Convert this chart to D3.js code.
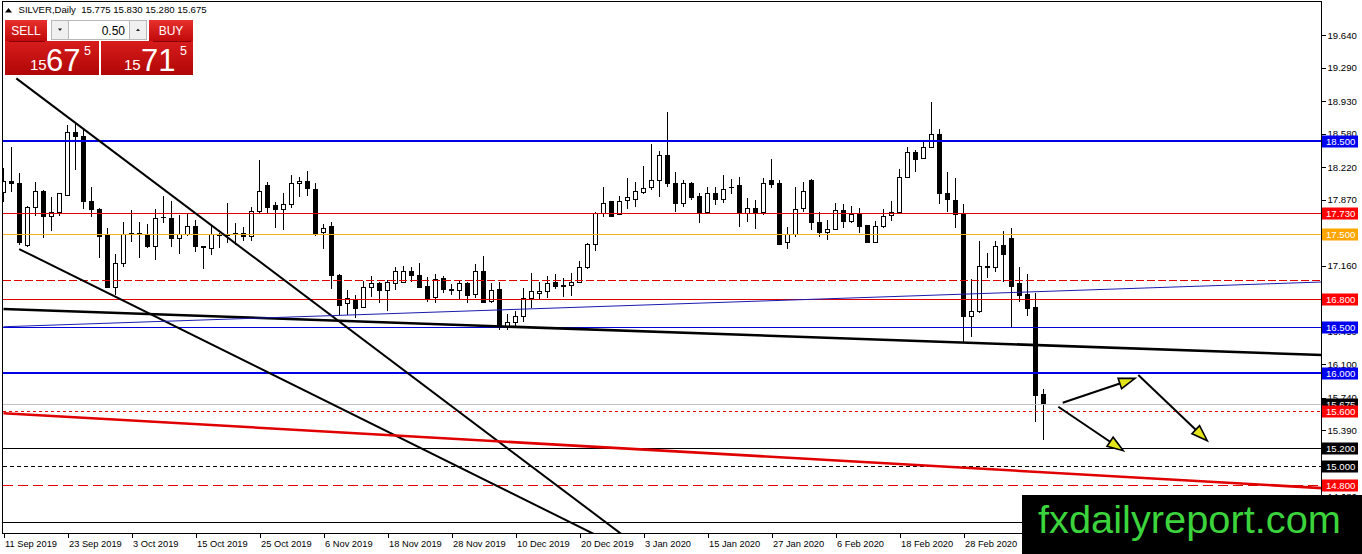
<!DOCTYPE html>
<html><head><meta charset="utf-8">
<script src="https://cdn.jsdelivr.net/npm/d3@7"></script>
<style>
body{margin:0;background:#fff;}
svg{display:block;font-family:"Liberation Sans",Arial,sans-serif;}
</style>
</head><body>
<svg id="c" width="1362" height="554"></svg>
<script>
// ---------- DATA ----------
const dateLabels = ["11 Sep 2019","23 Sep 2019","3 Oct 2019","15 Oct 2019","25 Oct 2019","6 Nov 2019","18 Nov 2019","28 Nov 2019","10 Dec 2019","20 Dec 2019","3 Jan 2020","15 Jan 2020","27 Jan 2020","6 Feb 2020","18 Feb 2020","28 Feb 2020","11 Mar 2020"];
const dateLabelBars = [0,8,16,24,32,40,48,56,64,72,80,88,96,104,112,120,128];

const open = [17.951,18.059,18.048,17.381,17.790,17.962,17.693,17.736,17.919,18.596,
18.553,17.844,17.768,17.499,16.929,17.187,17.499,17.505,17.499,17.370,
17.680,17.671,17.446,17.489,17.585,17.360,17.349,17.489,17.480,17.490,
17.500,17.478,17.747,18.016,17.801,17.768,17.822,18.048,18.059,17.983,
17.521,17.575,17.058,16.747,16.800,16.714,16.919,16.972,16.897,16.972,
16.983,17.091,17.048,16.940,16.822,17.026,16.905,16.897,16.962,16.854,
17.101,16.779,16.908,16.499,16.553,16.607,16.811,16.865,16.886,16.983,
16.940,16.951,16.983,17.144,17.392,17.725,17.844,17.714,17.865,17.876,
17.951,18.005,18.080,18.349,18.048,17.833,18.048,17.908,17.736,17.940,
17.876,18.000,18.016,17.725,17.779,17.736,18.080,18.048,17.413,17.489,
17.779,18.080,17.628,17.521,17.553,17.757,17.639,17.725,17.596,17.413,
17.585,17.704,17.736,18.112,18.371,18.317,18.435,18.575,17.940,17.865,
17.714,16.617,16.671,17.144,17.144,17.381,17.456,16.962,16.854,16.704,15.775];
const high = [18.209,18.435,18.155,17.800,18.059,17.970,17.897,17.940,18.672,18.693,
18.639,18.005,17.780,17.564,17.284,17.628,17.757,17.628,17.607,17.768,
17.908,17.854,17.704,17.714,17.650,17.370,17.585,17.510,17.833,17.618,
17.575,17.790,18.295,18.059,17.844,17.940,18.134,18.112,18.177,18.048,
17.607,17.628,17.070,16.897,16.843,16.994,17.048,16.983,17.005,17.144,
17.155,17.144,17.187,17.037,17.069,17.048,16.962,17.005,16.983,17.177,
17.263,16.972,16.983,16.639,16.671,16.919,17.080,16.983,17.048,17.069,
17.026,17.080,17.209,17.403,17.736,18.005,17.850,17.908,18.102,18.059,
18.231,18.467,18.392,18.812,18.166,18.080,18.059,17.940,18.005,18.005,
18.134,18.091,18.112,17.887,17.865,18.102,18.306,18.080,17.575,18.005,
18.059,18.090,17.736,17.650,17.833,17.822,17.801,17.779,17.600,17.639,
17.768,17.854,18.198,18.435,18.403,18.500,18.919,18.629,18.166,18.102,
17.822,17.015,17.424,17.295,17.424,17.532,17.564,17.144,17.069,16.865,15.830];
const low = [17.844,17.951,17.381,17.360,17.693,17.456,17.532,17.693,17.910,18.188,
17.768,17.682,17.241,16.920,16.843,17.144,17.413,17.241,17.349,17.220,
17.618,17.360,17.284,17.480,17.306,17.123,17.274,17.349,17.403,17.381,
17.424,17.424,17.725,17.725,17.564,17.542,17.779,17.897,17.908,17.478,
17.338,16.908,16.628,16.628,16.596,16.710,16.822,16.757,16.671,16.897,
16.972,16.983,16.919,16.768,16.757,16.865,16.843,16.790,16.757,16.811,
16.757,16.757,16.467,16.467,16.499,16.553,16.704,16.790,16.811,16.908,
16.822,16.833,16.972,17.123,17.317,17.682,17.682,17.710,17.768,17.790,
17.930,17.973,17.897,18.005,17.736,17.790,17.865,17.618,17.714,17.811,
17.833,17.930,17.575,17.628,17.553,17.704,17.994,17.380,17.338,17.467,
17.736,17.542,17.467,17.435,17.542,17.564,17.618,17.510,17.410,17.408,
17.564,17.639,17.725,18.102,18.166,18.306,18.424,17.822,17.736,17.564,
16.327,16.392,16.650,17.026,17.091,16.983,16.499,16.768,16.617,15.477,15.280];
const close = [18.059,18.048,17.403,17.790,17.962,17.693,17.736,17.930,18.596,18.543,
17.844,17.768,17.478,16.929,17.187,17.499,17.505,17.495,17.370,17.671,
17.672,17.446,17.489,17.585,17.360,17.352,17.489,17.480,17.490,17.500,
17.478,17.747,17.962,17.790,17.768,17.822,18.048,18.059,17.994,17.499,
17.564,17.048,16.736,16.811,16.693,16.919,16.972,16.897,16.983,17.091,
17.091,17.048,16.929,16.811,17.015,16.908,16.897,16.972,16.833,17.101,
16.768,16.897,16.499,16.553,16.617,16.811,16.876,16.886,16.972,16.940,
16.945,16.983,17.144,17.392,17.725,17.833,17.693,17.854,17.897,17.962,
17.994,18.080,18.349,18.048,17.833,18.048,17.897,17.736,17.940,17.876,
17.973,18.005,17.725,17.779,17.725,18.048,18.037,17.392,17.489,17.768,
17.962,17.618,17.521,17.553,17.757,17.639,17.714,17.585,17.413,17.585,
17.693,17.736,18.112,18.381,18.306,18.435,18.575,17.940,17.876,17.714,
16.607,16.671,17.155,17.150,17.360,17.284,16.940,16.843,16.693,15.760,15.675];

// price-axis ticks; ticks whose label is fully covered by a level label in the reference get no text
const priceTicks = [19.640,19.290,18.930,18.580,18.220,17.870,17.510,17.160,16.800,16.450,16.100,15.740,15.390,15.030,14.680];
const hiddenTickTexts = [17.510,16.800,15.030];

const levelValues = [18.500,17.730,17.500,17.000,16.800,16.500,16.000,15.675,15.600,15.200,15.000,14.800,14.400];
const levelTexts  = ["18.500","17.730","17.500","","16.800","16.500","16.000","15.675","15.600","15.200","15.000","14.800",""];

// trend lines: [bar, price] start and end
const trendStart = [[1.6,19.174],[1.96,17.338],[0,16.693],[0,16.502],[0,15.572]];
const trendEnd   = [[78,14.223],[75,14.222],[165,16.197],[165,16.984],[165,14.766]];

// arrows: [bar, price] start and end
const arrowStart = [[132.4,15.685],[141.85,15.983],[131.85,15.642]];
const arrowEnd   = [[141.44,15.947],[150.48,15.276],[139.98,15.169]];

const header = {symbol:"SILVER,Daily", ohlc:["15.775","15.830","15.280","15.675"]};
const lotSize = "0.50";
const bidParts = ["15","67","5"];
const askParts = ["15","71","5"];
const watermark = "fxdailyreport.com";

// ---------- STYLES (kept separate from data) ----------
const levelStyle = [
 {c:"#0000e6",w:2,d:null,bg:"#0000f0"},
 {c:"#e00000",w:1,d:null,bg:"#ff0000"},
 {c:"#f0b020",w:1,d:null,bg:"#ffa500"},
 {c:"#e00000",w:1,d:"8,3",bg:null},
 {c:"#e00000",w:1,d:null,bg:"#ff0000"},
 {c:"#0000d8",w:1,d:null,bg:"#0000f0"},
 {c:"#0000e6",w:2,d:null,bg:"#0000f0"},
 {c:"#c0c0c0",w:1,d:null,bg:"#000000"},
 {c:"#e80000",w:1,d:"3,3",bg:"#ff0000"},
 {c:"#000000",w:1,d:null,bg:"#000000"},
 {c:"#000000",w:1,d:"4,3",bg:"#000000"},
 {c:"#e80000",w:1,d:"10,5",bg:"#ff0000"},
 {c:"#000000",w:1,d:null,bg:null}
];
const trendStyle = [
 {c:"#000",w:2},{c:"#000",w:2},{c:"#000",w:2.6},{c:"#1a1ab0",w:1},{c:"#e00000",w:2.6}
];

// ---------- CHART ----------
const W=1362,H=554, L=2.5, R=1321.5, T=1.5, B=533.5;
const svg = d3.select("#c");
const x = d3.scaleLinear().domain([0,130]).range([3.5,1043.5]);
const y = d3.scaleLinear().domain([19.64,14.8]).range([35,485]);

svg.append("rect").attr("width",W).attr("height",H).attr("fill","#fff");
const defs = svg.append("defs");
defs.append("clipPath").attr("id","plot").append("rect")
  .attr("x",L).attr("y",T).attr("width",R-L).attr("height",B-T);
const g1 = defs.append("linearGradient").attr("id","redTop").attr("x1",0).attr("y1",0).attr("x2",0).attr("y2",1);
g1.append("stop").attr("offset","0%").attr("stop-color","#e8302c");
g1.append("stop").attr("offset","100%").attr("stop-color","#c00a0a");
const g2 = defs.append("linearGradient").attr("id","redBig").attr("x1",0).attr("y1",0).attr("x2",0).attr("y2",1);
g2.append("stop").attr("offset","0%").attr("stop-color","#d81c1c");
g2.append("stop").attr("offset","100%").attr("stop-color","#b00606");

const plot = svg.append("g").attr("clip-path","url(#plot)");

// candles
const bars = d3.range(open.length);
const cg = plot.append("g").attr("shape-rendering","crispEdges");
cg.selectAll("line.wick").data(bars).join("line").attr("class","wick")
  .attr("x1",i=>x(i)).attr("x2",i=>x(i))
  .attr("y1",i=>y(high[i])).attr("y2",i=>y(low[i]))
  .attr("stroke","#000").attr("stroke-width",1);
cg.selectAll("rect.body").data(bars).join("rect").attr("class","body")
  .attr("x",i=>x(i)-2).attr("width",4)
  .attr("y",i=>Math.min(y(open[i]),y(close[i])))
  .attr("height",i=>Math.max(Math.abs(y(open[i])-y(close[i])),0.6))
  .attr("fill",i=>close[i]>=open[i]?"#fff":"#000")
  .attr("stroke","#000").attr("stroke-width",1);

// horizontal levels
const lvlY = (d,i)=>Math.round(y(d)) + (levelStyle[i].w===2?0:0.5);
plot.selectAll("line.lvl").data(levelValues).join("line").attr("class","lvl")
  .attr("x1",L).attr("x2",R)
  .attr("y1",lvlY).attr("y2",lvlY)
  .attr("stroke",(d,i)=>levelStyle[i].c)
  .attr("stroke-width",(d,i)=>levelStyle[i].w)
  .attr("stroke-dasharray",(d,i)=>levelStyle[i].d)
  .attr("shape-rendering","crispEdges");

// trend lines
plot.selectAll("line.tr").data(trendStart).join("line").attr("class","tr")
  .attr("x1",d=>x(d[0])).attr("y1",d=>y(d[1]))
  .attr("x2",(d,i)=>x(trendEnd[i][0])).attr("y2",(d,i)=>y(trendEnd[i][1]))
  .attr("stroke",(d,i)=>trendStyle[i].c).attr("stroke-width",(d,i)=>trendStyle[i].w);

// arrows
arrowStart.forEach((s,i)=>{
  const e = arrowEnd[i];
  const x1=x(s[0]),y1=y(s[1]),x2=x(e[0]),y2=y(e[1]);
  const ang=Math.atan2(y2-y1,x2-x1), len=16, hw=5.5;
  const bx=x2-len*Math.cos(ang), by=y2-len*Math.sin(ang);
  plot.append("line").attr("x1",x1).attr("y1",y1).attr("x2",bx).attr("y2",by)
    .attr("stroke","#000").attr("stroke-width",2);
  const pts=[[x2,y2],[bx+hw*Math.sin(ang),by-hw*Math.cos(ang)],[bx-hw*Math.sin(ang),by+hw*Math.cos(ang)]];
  plot.append("polygon").attr("points",pts.map(p=>p.join(",")).join(" "))
    .attr("fill","#e4e41a").attr("stroke","#000").attr("stroke-width",1.6).attr("stroke-linejoin","miter");
});

// frame
svg.append("rect").attr("x",L).attr("y",T).attr("width",R-L).attr("height",B-T)
  .attr("fill","none").attr("stroke","#000").attr("stroke-width",1).attr("shape-rendering","crispEdges");

// right axis
const fmt = d3.format(".3f");
const ay = svg.append("g").attr("transform",`translate(${R},0)`)
  .call(d3.axisRight(y).tickValues(priceTicks).tickSize(4).tickPadding(2)
    .tickFormat(d=>hiddenTickTexts.includes(d)?"":fmt(d)));
ay.select(".domain").remove();
ay.attr("font-family","'Liberation Sans',Arial,sans-serif").attr("font-size",9.6);
ay.selectAll("line").attr("shape-rendering","crispEdges");

// level labels on the axis
const lab = svg.append("g");
levelValues.forEach((v,i)=>{
  if(!levelStyle[i].bg) return;
  const cy = Math.round(y(v));
  lab.append("rect").attr("x",R+0.5).attr("y",cy-5.5).attr("width",36).attr("height",12)
    .attr("fill",levelStyle[i].bg);
  lab.append("text").attr("x",R+4.5).attr("y",cy+4).attr("fill","#fff")
    .attr("font-size",9.6).text(levelTexts[i]);
});

// bottom axis
const ax = svg.append("g").attr("transform",`translate(0,${B})`)
  .call(d3.axisBottom(x).tickValues(dateLabelBars).tickFormat((d,i)=>dateLabels[i]).tickSize(4).tickPadding(2.5));
ax.select(".domain").remove();
ax.attr("font-family","'Liberation Sans',Arial,sans-serif").attr("font-size",9.3);
ax.selectAll("text").attr("text-anchor","start").attr("dx",1);
ax.selectAll("line").attr("shape-rendering","crispEdges");

// header
svg.append("path").attr("d","M5,12.5 L8.5,8 L12,12.5 Z").attr("fill","#000");
svg.append("text").attr("x",18.5).attr("y",13).attr("font-size",9.6).attr("fill","#000")
  .attr("xml:space","preserve")
  .text(header.symbol+"  "+header.ohlc.join(" "));

// one-click trading panel
const p = svg.append("g");
p.append("rect").attr("x",5).attr("y",20).attr("width",42).attr("height",21).attr("fill","url(#redTop)");
p.append("rect").attr("x",149).attr("y",20).attr("width",44).attr("height",21).attr("fill","url(#redTop)");
p.append("rect").attr("x",5).attr("y",41).attr("width",94).attr("height",34).attr("fill","url(#redBig)");
p.append("rect").attr("x",101).attr("y",41).attr("width",92).attr("height",34).attr("fill","url(#redBig)");
p.append("line").attr("x1",9).attr("x2",45).attr("y1",41.5).attr("y2",41.5).attr("stroke","#8a0000");
p.append("line").attr("x1",153).attr("x2",191).attr("y1",41.5).attr("y2",41.5).attr("stroke","#8a0000");
p.append("rect").attr("x",51.5).attr("y",20.5).attr("width",95).attr("height",19).attr("fill","#fff").attr("stroke","#b8b8b8");
p.append("rect").attr("x",51.5).attr("y",20.5).attr("width",17).attr("height",19).attr("fill","#f0f0f0").attr("stroke","#b8b8b8");
p.append("rect").attr("x",129.5).attr("y",20.5).attr("width",17).attr("height",19).attr("fill","#f0f0f0").attr("stroke","#b8b8b8");
p.append("path").attr("d","M58,28.5 L62,28.5 L60,31 Z").attr("fill","#222");
p.append("path").attr("d","M136,31 L140,31 L138,28.5 Z").attr("fill","#222");
p.append("text").attr("x",125).attr("y",34.5).attr("text-anchor","end").attr("font-size",12).attr("fill","#000").text(lotSize);
p.append("text").attr("x",26).attr("y",35).attr("text-anchor","middle").attr("font-size",12).attr("fill","#fff").text("SELL");
p.append("text").attr("x",171).attr("y",35).attr("text-anchor","middle").attr("font-size",12).attr("fill","#fff").text("BUY");
[[bidParts,30,46,84],[askParts,124,141,180]].forEach(([parts,x1,x2,x3])=>{
  p.append("text").attr("x",x1).attr("y",70).attr("font-size",15).attr("fill","#fff").text(parts[0]);
  p.append("text").attr("x",x2).attr("y",70.5).attr("font-size",31).attr("fill","#fff").text(parts[1]);
  p.append("text").attr("x",x3).attr("y",55).attr("font-size",12.5).attr("fill","#fff").text(parts[2]);
});

// watermark
svg.append("rect").attr("x",1022).attr("y",495).attr("width",340).attr("height",59).attr("fill","#000");
svg.append("text").attr("x",1038).attr("y",533).attr("font-size",38).attr("fill","#3cd43c")
  .attr("textLength",303).attr("lengthAdjust","spacingAndGlyphs").text(watermark);
</script>
</body></html>
